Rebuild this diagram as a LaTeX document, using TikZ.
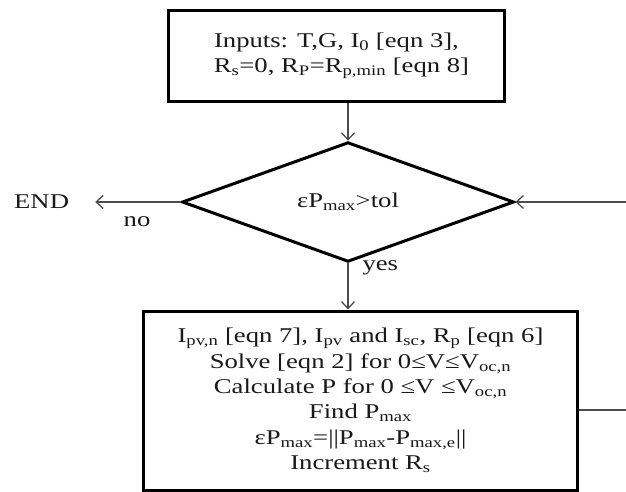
\documentclass[tikz,border=0pt]{standalone}
\usepackage{fontspec}
\setmainfont[FakeStretch=1.27]{Liberation Serif}
\usetikzlibrary{arrows.meta, shapes.geometric}

\newcommand{\sub}[1]{\textsubscript{#1}}
\tikzset{
  procbox/.style={draw, line width=3pt, inner sep=0pt, align=center,
    font=\fontsize{21}{25.4}\selectfont, text=black!90},
  decision/.style={diamond, draw, line width=3pt, inner sep=0pt,
    minimum width=332pt, minimum height=92pt,
    font=\fontsize{21}{25.4}\selectfont, text=black!90},
  flow/.style={line width=1.3pt, draw=black!70},
  lbl/.style={font=\fontsize{21}{25.4}\selectfont, text=black!90},
}

\begin{document}
\begin{tikzpicture}[x=1pt, y=-1pt, >={Straight Barb[length=7pt, width=13pt]}]

  % 1. page frame (feedback line runs off the right edge)
  \useasboundingbox (0,0) rectangle (626,491);
  \clip (0,0) rectangle (626,491);

  % 2. boxes and decision
  \node[procbox, minimum width=336pt, minimum height=91pt] (inputs) at (336.5,56)
    {Inputs: T,G, I\sub{0} [eqn 3],\\ \hspace*{10pt}R\sub{s}=0, R\sub{P}=R\sub{p,min} [eqn 8]};
  \node[decision] (check) at (348,202) {εP\sub{max}>tol};
  \node[procbox, minimum width=434pt, minimum height=179pt] (calc) at (360.5,400.5)
    {I\sub{pv,n} [eqn 7], I\sub{pv} and I\sub{sc}, R\sub{p} [eqn 6]\\
     Solve [eqn 2] for 0≤V≤V\sub{oc,n}\\
     Calculate P for 0 ≤V ≤V\sub{oc,n}\\
     Find P\sub{max}\\
     εP\sub{max}=||P\sub{max}-P\sub{max,e}||\\
     Increment R\sub{s}};

  % 3. labels
  \node[lbl, anchor=west, inner sep=0pt] (endn) at (14,202) {END};
  \node[lbl] (nolbl) at (137,222) {no};
  \node[lbl, anchor=west] (yeslbl) at (359,268) {yes};
  \coordinate (loopr) at (650,410);   % beyond the right edge

  % 4. connectors
  \draw[flow, ->] (inputs.south -| check.north) -- (check.north);
  \draw[flow, ->] (check.south) -- (check.south |- calc.north);
  \draw[flow, ->, shorten >=26pt] (check.west) -- (endn.east);
  \draw[flow, ->] (calc.east |- loopr) -- (loopr) |- (check.east);

\end{tikzpicture}
\end{document}
